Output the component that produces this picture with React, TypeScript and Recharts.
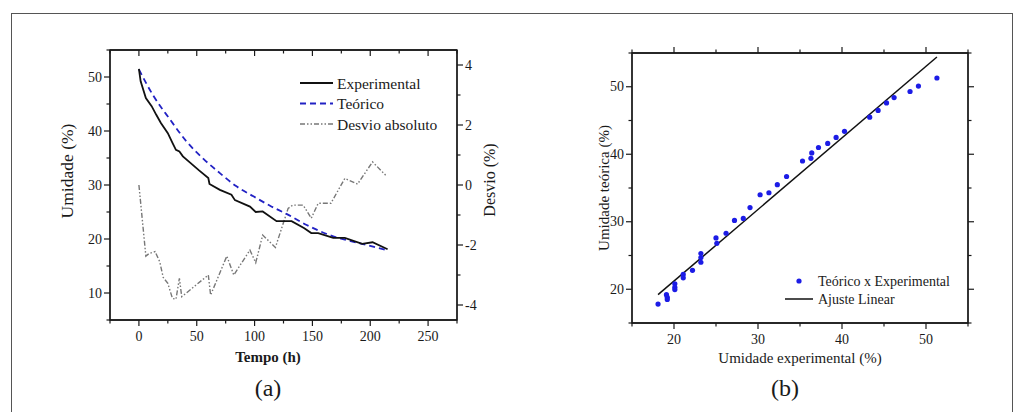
import React from 'react';
import { ComposedChart, Line, Scatter, XAxis, YAxis, Legend, ReferenceArea } from 'recharts';

const FONT = '"Liberation Serif", "Times New Roman", serif';
const INK = '#1a1a1a';

// (a) cinética de secagem
const expTime = [0, 1.5, 6, 11, 15, 19, 25, 29, 32, 35, 38, 45, 52, 60, 61, 70, 80, 83, 96, 101, 107, 119, 132, 143, 149, 155, 168, 178, 193, 202, 215];
const expMoisture = [51.5, 49.2, 46.1, 44.6, 43.0, 41.5, 39.6, 37.8, 36.5, 36.2, 35.3, 34.0, 32.7, 31.3, 30.2, 29.1, 28.2, 27.2, 26.0, 25.0, 25.1, 23.3, 23.3, 22.0, 21.1, 21.1, 20.2, 20.2, 19.1, 19.4, 18.1];
const teoTime = [0, 12, 27, 41, 56, 70, 84, 99, 113, 128, 145, 168, 191, 215];
const teoMoisture = [51.4, 46.7, 42.1, 38.1, 34.8, 32.2, 29.8, 27.9, 26.2, 24.6, 22.6, 20.5, 19.2, 17.9];
const desvioTime = [0, 6, 9, 14, 18, 21, 25, 29, 32, 35, 37, 41, 60, 62, 76, 82, 96, 101, 107, 118, 129, 133, 142, 149, 155, 166, 178, 189, 202, 214];
const desvioValue = [0.0, -2.37, -2.28, -2.22, -2.56, -3.08, -3.28, -3.78, -3.81, -3.11, -3.72, -3.6, -3.0, -3.67, -2.37, -3.0, -2.17, -2.59, -1.67, -2.08, -0.78, -0.67, -0.67, -1.11, -0.61, -0.61, 0.22, 0.03, 0.77, 0.3];

// (b) teórico x experimental
const parityExp = [18.1, 19.1, 19.2, 19.2, 20.1, 20.1, 20.1, 21.1, 21.1, 22.2, 23.2, 23.2, 23.2, 25.0, 25.1, 26.2, 27.2, 28.25, 29.05, 30.25, 31.3, 32.3, 33.4, 35.3, 36.3, 36.4, 37.2, 38.3, 39.3, 40.3, 43.3, 44.3, 45.3, 46.2, 48.1, 49.1, 51.3];
const parityTeo = [17.8, 19.2, 18.8, 18.5, 20.8, 20.3, 19.95, 22.2, 21.7, 22.8, 25.3, 24.7, 24.0, 27.6, 26.8, 28.3, 30.2, 30.5, 32.1, 34.0, 34.3, 35.5, 36.7, 39.0, 39.4, 40.2, 41.0, 41.6, 42.5, 43.4, 45.5, 46.5, 47.6, 48.4, 49.3, 50.1, 51.3];
const fitExp = [18.1, 51.3];
const fitTeo = [19.2, 54.4];

const timeTicks = [-25, 0, 25, 50, 75, 100, 125, 150, 175, 200, 225, 250, 275];
const timeLabels = [0, 50, 100, 150, 200, 250];
const moistTicks = [5, 10, 15, 20, 25, 30, 35, 40, 45, 50, 55];
const moistLabels = [10, 20, 30, 40, 50];
const devTicks = [-4, -3, -2, -1, 0, 1, 2, 3, 4];
const devLabels = [-4, -2, 0, 2, 4];
const parityTicks = [15, 20, 25, 30, 35, 40, 45, 50, 55];
const parityLabels = [20, 30, 40, 50];

const expData = expTime.map((t, i) => ({ t, v: expMoisture[i] }));
const teoData = teoTime.map((t, i) => ({ t, v: teoMoisture[i] }));
const desvioData = desvioTime.map((t, i) => ({ t, d: desvioValue[i] }));
const parityData = parityExp.map((x, i) => ({ x, y: parityTeo[i] }));
const fitData = fitExp.map((x, i) => ({ x, y: fitTeo[i] }));

const EXP_COLOR = '#111';
const TEO_COLOR = '#2222c4';
const DEV_COLOR = '#777';
const DEV_DASH = '5 2 1.5 2 1.5 2';
const DOT_COLOR = '#1c1ce6';

const axisLine = { stroke: INK, strokeWidth: 1.3 };

type Side = 'bottom' | 'top' | 'left' | 'right';

// tick mark + optional label, majors get the long tick
const makeTick = (side: Side, majors: number[], showLabels: boolean, inward = false) => (props: any) => {
  const { x, y, payload } = props;
  const v = payload.value;
  const major = majors.includes(v);
  const len = (major ? 6 : 3.5) * (inward ? -1 : 1);
  let x2 = x;
  let y2 = y;
  if (side === 'bottom') y2 = y + len;
  if (side === 'top') y2 = y - len;
  if (side === 'left') x2 = x - len;
  if (side === 'right') x2 = x + len;
  let label = null;
  if (showLabels && major) {
    const common = { fontSize: 14, fontFamily: FONT, fill: INK, dominantBaseline: 'central' as const };
    if (side === 'bottom') label = <text x={x} y={y + 16} textAnchor="middle" {...common}>{v}</text>;
    if (side === 'left') label = <text x={x - 8} y={y} textAnchor="end" {...common}>{v}</text>;
    if (side === 'right') label = <text x={x + 8} y={y} textAnchor="start" {...common}>{v}</text>;
  }
  return (
    <g>
      <line x1={x} y1={y} x2={x2} y2={y2} stroke={INK} strokeWidth={1.2} />
      {label}
    </g>
  );
};

const AxisTitle = ({ px, py, text, rot = 0, size = 15, bold = false }: any) => (
  <text
    x={px}
    y={py}
    transform={rot ? `rotate(${rot} ${px} ${py})` : undefined}
    textAnchor="middle"
    dominantBaseline="central"
    fontSize={size}
    fontWeight={bold ? 'bold' : 'normal'}
    fontFamily={FONT}
    fill={INK}
  >
    {text}
  </text>
);

const legendA = [
  { name: 'Experimental', stroke: EXP_COLOR, dash: undefined, width: 1.8 },
  { name: 'Teórico', stroke: TEO_COLOR, dash: '6 4', width: 1.8 },
  { name: 'Desvio absoluto', stroke: DEV_COLOR, dash: DEV_DASH, width: 1.4 },
];

const LegendA = () => (
  <svg width={170} height={66} style={{ display: 'block' }}>
    {legendA.map((item, i) => {
      const y = 14 + i * 20.5;
      return (
        <g key={item.name}>
          <line x1={5} x2={38} y1={y} y2={y} stroke={item.stroke} strokeWidth={item.width} strokeDasharray={item.dash} />
          <text x={42} y={y} dominantBaseline="central" fontSize={15.5} fontFamily={FONT} fill={INK}>{item.name}</text>
        </g>
      );
    })}
  </svg>
);

const LegendB = () => (
  <svg width={190} height={42} style={{ display: 'block' }}>
    <circle cx={19} cy={11} r={2.6} fill={DOT_COLOR} />
    <text x={38} y={11} dominantBaseline="central" fontSize={14} fontFamily={FONT} fill={INK}>Teórico x Experimental</text>
    <line x1={5} x2={33} y1={29} y2={29} stroke={EXP_COLOR} strokeWidth={1.5} />
    <text x={38} y={29} dominantBaseline="central" fontSize={14} fontFamily={FONT} fill={INK}>Ajuste Linear</text>
  </svg>
);

export default function App() {
  return (
    <div style={{ position: 'absolute', left: 0, top: 0, width: 1020, height: 412, background: '#fff', overflow: 'hidden' }}>
      <div style={{ position: 'absolute', left: 11, top: 13, width: 1000, height: 430, border: '1px solid #555' }} />

      {/* (a) umidade e desvio vs tempo */}
      <div style={{ position: 'absolute', left: 0, top: 0 }}>
        <ComposedChart width={520} height={412} margin={{ top: 40, right: 23, bottom: 0, left: 50 }}>
          <XAxis
            xAxisId="b"
            type="number"
            dataKey="t"
            domain={[-25, 275]}
            allowDataOverflow
            ticks={timeTicks}
            interval={0}
            tickSize={0}
            tickMargin={0}
            tickLine={false}
            tick={makeTick('bottom', timeLabels, true)}
            stroke={INK}
            axisLine={axisLine}
            height={92}
            label={<AxisTitle px={268} py={357} text="Tempo (h)" bold />}
          />
          <XAxis
            xAxisId="t"
            orientation="top"
            type="number"
            dataKey="t"
            domain={[-25, 275]}
            allowDataOverflow
            ticks={timeTicks}
            interval={0}
            tickSize={0}
            tickMargin={0}
            tickLine={false}
            tick={makeTick('top', timeLabels, false, true)}
            stroke={INK}
            axisLine={axisLine}
            height={10}
          />
          <YAxis
            yAxisId="l"
            type="number"
            domain={[5, 55]}
            allowDataOverflow
            ticks={moistTicks}
            interval={0}
            tickSize={0}
            tickMargin={0}
            tickLine={false}
            tick={makeTick('left', moistLabels, true)}
            stroke={INK}
            axisLine={axisLine}
            width={60}
            label={<AxisTitle px={67} py={171} text="Umidade (%)" rot={-90} size={17.5} />}
          />
          <YAxis
            yAxisId="r"
            orientation="right"
            type="number"
            domain={[-4.5, 4.5]}
            allowDataOverflow
            ticks={devTicks}
            interval={0}
            tickSize={0}
            tickMargin={0}
            tickLine={false}
            tick={makeTick('right', devLabels, true)}
            stroke={INK}
            axisLine={axisLine}
            width={40}
            label={<AxisTitle px={489} py={180} text="Desvio (%)" rot={-90} size={16} />}
          />
          <ReferenceArea xAxisId="b" yAxisId="l" x1={-25} x2={275} y1={5} y2={55} fill="none" stroke={INK} strokeWidth={1.3} ifOverflow="visible" />
          <Line xAxisId="b" yAxisId="r" data={desvioData} dataKey="d" type="linear" stroke={DEV_COLOR} strokeWidth={1.4} strokeDasharray={DEV_DASH} dot={false} isAnimationActive={false} />
          <Line xAxisId="b" yAxisId="l" data={teoData} dataKey="v" type="monotone" stroke={TEO_COLOR} strokeWidth={1.8} strokeDasharray="6 4" dot={false} isAnimationActive={false} />
          <Line xAxisId="b" yAxisId="l" data={expData} dataKey="v" type="linear" stroke={EXP_COLOR} strokeWidth={1.8} dot={false} isAnimationActive={false} />
          <Legend
            layout="vertical"
            align="center"
            verticalAlign="middle"
            content={<LegendA />}
            wrapperStyle={{ left: 295, top: 69, width: 170, height: 66 }}
          />
        </ComposedChart>
      </div>

      {/* (b) teórico x experimental */}
      <div style={{ position: 'absolute', left: 520, top: 0 }}>
        <ComposedChart width={500} height={412} margin={{ top: 43, right: 42, bottom: 0, left: 52 }}>
          <XAxis
            xAxisId="b"
            type="number"
            dataKey="x"
            domain={[15, 55]}
            allowDataOverflow
            ticks={parityTicks}
            interval={0}
            tickSize={0}
            tickMargin={0}
            tickLine={false}
            tick={makeTick('bottom', parityLabels, true)}
            stroke={INK}
            axisLine={axisLine}
            height={89}
            label={<AxisTitle px={280} py={358} text="Umidade experimental (%)" />}
          />
          <XAxis
            xAxisId="t"
            orientation="top"
            type="number"
            dataKey="x"
            domain={[15, 55]}
            allowDataOverflow
            ticks={parityTicks}
            interval={0}
            tickSize={0}
            tickMargin={0}
            tickLine={false}
            tick={makeTick('top', parityLabels, false)}
            stroke={INK}
            axisLine={axisLine}
            height={10}
          />
          <YAxis
            yAxisId="l"
            type="number"
            dataKey="y"
            domain={[15, 55]}
            allowDataOverflow
            ticks={parityTicks}
            interval={0}
            tickSize={0}
            tickMargin={0}
            tickLine={false}
            tick={makeTick('left', parityLabels, true)}
            stroke={INK}
            axisLine={axisLine}
            width={60}
            label={<AxisTitle px={84} py={188} text="Umidade teórica (%)" rot={-90} />}
          />
          <YAxis
            yAxisId="r"
            orientation="right"
            type="number"
            dataKey="y"
            domain={[15, 55]}
            allowDataOverflow
            ticks={parityTicks}
            interval={0}
            tickSize={0}
            tickMargin={0}
            tickLine={false}
            tick={makeTick('right', parityLabels, false)}
            stroke={INK}
            axisLine={axisLine}
            width={10}
          />
          <ReferenceArea xAxisId="b" yAxisId="l" x1={15} x2={55} y1={15} y2={55} fill="none" stroke={INK} strokeWidth={1.3} ifOverflow="visible" />
          <Line xAxisId="b" yAxisId="l" data={fitData} dataKey="y" type="linear" stroke={EXP_COLOR} strokeWidth={1.5} dot={false} isAnimationActive={false} />
          <Scatter
            xAxisId="b"
            yAxisId="l"
            data={parityData}
            dataKey="y"
            fill={DOT_COLOR}
            isAnimationActive={false}
            shape={(p: any) => <circle cx={p.cx} cy={p.cy} r={2.6} fill={DOT_COLOR} />}
          />
          <Legend
            layout="vertical"
            align="center"
            verticalAlign="middle"
            content={<LegendB />}
            wrapperStyle={{ left: 260, top: 270, width: 190, height: 42 }}
          />
        </ComposedChart>
      </div>

      <div style={{ position: 'absolute', left: 268, top: 388, transform: 'translate(-50%, -50%)', fontFamily: FONT, fontSize: 24, color: INK }}>(a)</div>
      <div style={{ position: 'absolute', left: 785, top: 388, transform: 'translate(-50%, -50%)', fontFamily: FONT, fontSize: 24, color: INK }}>(b)</div>
    </div>
  );
}
